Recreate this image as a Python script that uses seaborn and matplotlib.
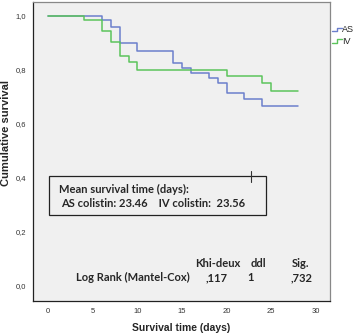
import pandas as pd
import numpy as np
import seaborn as sns
import matplotlib.pyplot as plt
from matplotlib.patches import Rectangle
from matplotlib.lines import Line2D
from matplotlib.legend_handler import HandlerBase

# survival curves (step functions)
as_days = [0, 6, 7, 8, 10, 14, 15, 16, 18, 19, 20, 22, 24, 28]
as_surv = [1.0, 0.984, 0.957, 0.900, 0.871, 0.824, 0.805, 0.789, 0.769, 0.752, 0.713, 0.690, 0.666, 0.666]
iv_days = [0, 4, 6, 7, 8, 9, 10, 20, 24, 25, 28]
iv_surv = [1.0, 0.984, 0.944, 0.904, 0.851, 0.827, 0.800, 0.777, 0.750, 0.721, 0.721]

groups = ["AS", "IV"]
colors = ["#6b7fcc", "#5cc45c"]

x_ticks = [0, 5, 10, 15, 20, 25, 30]
y_ticks = [0.0, 0.2, 0.4, 0.6, 0.8, 1.0]

mean_lines = ["Mean survival time (days):", "AS colistin: 23.46    IV colistin:  23.56"]
test_head = ["Khi-deux", "ddl", "Sig."]
test_row = ["Log Rank (Mantel-Cox)", ",117", "1", ",732"]

df = pd.concat([
    pd.DataFrame({"days": as_days, "surv": as_surv, "group": "AS"}),
    pd.DataFrame({"days": iv_days, "surv": iv_surv, "group": "IV"}),
])


class StepHandler(HandlerBase):
    # little step shaped legend key like the SPSS one
    def create_artists(self, legend, orig_handle, xdescent, ydescent, width, height, fontsize, trans):
        xs = np.array([0, width * 0.5, width * 0.5, width]) - xdescent
        ys = np.array([0.1, 0.1, 0.7, 0.7]) * height - ydescent
        l = Line2D(xs, ys, color=orig_handle.get_color(), linewidth=orig_handle.get_linewidth())
        l.set_transform(trans)
        return [l]


sns.set_style("white")
plt.rcParams['font.family'] = ['Lato', 'DejaVu Sans']
fig = plt.figure(figsize=(3.6, 3.35), dpi=100)
ax = fig.add_axes([0.092, 0.102, 0.825, 0.892])
ax.set_facecolor("#f0f0f0")

p = sns.lineplot(data=df, x="days", y="surv", hue="group", hue_order=groups,
                 palette=colors, drawstyle="steps-post", linewidth=1.1,
                 estimator=None, sort=False, ax=ax, legend=False)

ax.set_xlim(-1.7, 31.6)
ax.set_ylim(-0.056, 1.051)
ax.set_xticks(x_ticks)
ax.set_xticklabels([str(t) for t in x_ticks], fontsize=5.5, color="#333333", family="Liberation Sans")
ax.set_yticks(y_ticks)
ax.set_yticklabels([f"{t:.1f}".replace(".", ",") for t in y_ticks], fontsize=5.5, color="#333333",
                   family="Liberation Sans")
ax.tick_params(axis="both", direction="out", length=3, width=0.8, color="#333333", pad=2)
ax.set_xlabel("Survival time (days)", fontsize=7.5, fontweight="bold", family="Liberation Sans")
ax.set_ylabel("Cumulative survival", fontsize=8, fontweight="bold", family="Liberation Sans")
ax.xaxis.set_label_coords(0.5, -0.074)
ax.yaxis.set_label_coords(-0.074, 0.56)
for side in ["left", "bottom"]:
    ax.spines[side].set_color("#222222")
    ax.spines[side].set_linewidth(0.9)
for side in ["top", "right"]:
    ax.spines[side].set_color("#888888")
    ax.spines[side].set_linewidth(0.9)

# mean survival box
ax.add_patch(Rectangle((0.1, 0.262), 24.3, 0.144, fill=False, edgecolor="#222222", linewidth=0.9))
ax.plot([22.7, 22.7], [0.385, 0.425], color="#333333", linewidth=0.8)
ax.text(1.2, 0.358, mean_lines[0], fontsize=8, fontweight="bold", va="center", ha="left")
ax.text(1.4, 0.306, mean_lines[1], fontsize=8, fontweight="bold", va="center", ha="left")

# log rank table
head_x = [18.95, 23.6, 28.3]
for hx, h in zip(head_x, test_head):
    ax.text(hx, 0.083, h, fontsize=8, fontweight="bold", ha="center", va="center")
ax.text(15.9, 0.031, test_row[0], fontsize=8, fontweight="bold", ha="right", va="center")
row_x = [18.85, 22.7, 28.4]
for rx, r in zip(row_x, test_row[1:]):
    ax.text(rx, 0.031, r, fontsize=8, fontweight="bold", ha="center", va="center")

# legend outside on the right
handles = [Line2D([], [], color=c, linewidth=1.0) for c in colors]
fig.legend(handles, groups, loc="upper left", bbox_to_anchor=(0.922, 0.925), frameon=False,
           handlelength=1.1, handletextpad=0.05, labelspacing=0.3,
           borderpad=0.0, borderaxespad=0.0, handler_map={Line2D: StepHandler()},
           prop={"family": "Liberation Sans", "size": 6.5})

fig.savefig("out.png", dpi=100, facecolor="white")
